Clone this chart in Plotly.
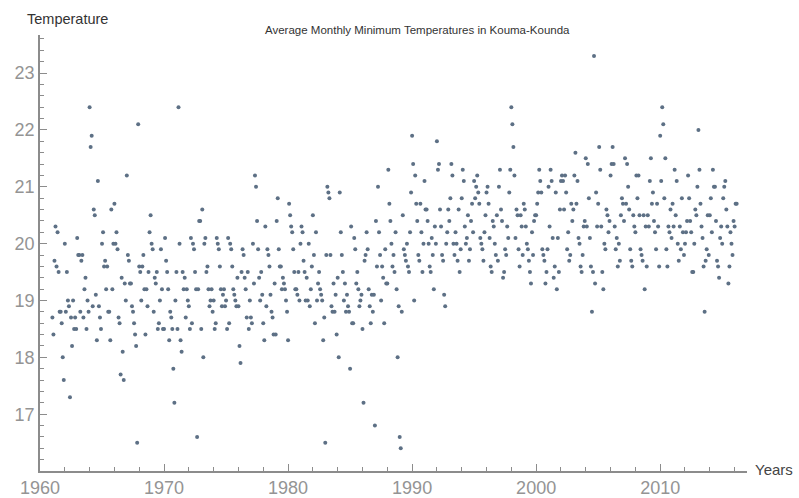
import plotly.graph_objects as go

y1961 = [18.7, 18.4, 19.7, 20.3, 19.6, 20.2, 19.5, 18.8, 18.8, 18.6, 18.0, 17.6]
y1962 = [20.0, 18.8, 19.5, 19.0, 18.9, 17.3, 18.7, 18.2, 19.0, 18.5, 18.7, 18.5]
y1963 = [20.1, 19.8, 19.8, 18.8, 19.7, 19.8, 18.7, 19.2, 19.4, 18.5, 19.0, 18.8]
y1964 = [22.4, 21.7, 21.9, 18.9, 20.6, 20.5, 19.1, 18.3, 21.1, 18.9, 18.7, 18.5]
y1965 = [20.0, 20.2, 19.6, 19.7, 19.2, 19.6, 18.8, 18.8, 18.3, 20.6, 19.2, 20.0]
y1966 = [20.7, 20.0, 20.2, 19.9, 18.7, 18.6, 17.7, 19.4, 18.1, 17.6, 19.3, 19.0]
y1967 = [21.2, 19.8, 19.7, 19.3, 19.3, 18.9, 18.8, 18.6, 18.4, 18.2, 16.5, 22.1]
y1968 = [19.6, 19.5, 19.0, 19.6, 19.8, 19.2, 18.4, 19.2, 18.9, 19.5, 20.2, 20.5]
y1969 = [20.0, 19.9, 18.8, 19.4, 19.3, 19.5, 18.5, 18.6, 19.0, 19.9, 19.2, 18.5]
y1970 = [18.5, 20.1, 19.7, 19.5, 19.2, 18.3, 18.8, 18.7, 18.5, 17.8, 17.2, 19.0]
y1971 = [19.5, 18.5, 22.4, 20.0, 18.3, 18.1, 19.5, 19.2, 19.4, 18.7, 19.2, 19.0]
y1972 = [18.9, 18.5, 20.1, 18.6, 20.0, 19.9, 19.5, 19.2, 16.6, 19.2, 20.4, 20.4]
y1973 = [18.5, 20.6, 18.0, 20.0, 20.1, 19.5, 19.6, 19.2, 18.9, 19.0, 19.2, 18.8]
y1974 = [19.0, 18.5, 18.6, 20.1, 20.0, 19.9, 19.6, 19.2, 18.9, 19.1, 19.2, 18.9]
y1975 = [19.0, 18.5, 20.1, 18.6, 20.0, 19.9, 19.6, 19.2, 19.1, 19.0, 18.9, 19.4]
y1976 = [18.9, 18.2, 17.9, 19.5, 19.9, 19.8, 19.4, 19.2, 18.7, 19.5, 18.5, 19.0]
y1977 = [18.7, 18.6, 20.0, 19.3, 21.2, 21.0, 20.4, 19.9, 19.4, 19.0, 19.5, 19.1]
y1978 = [18.6, 18.3, 20.3, 18.9, 19.9, 19.8, 19.6, 19.1, 18.8, 18.7, 18.4, 19.3]
y1979 = [18.4, 20.4, 20.8, 19.9, 19.6, 19.6, 19.2, 19.4, 19.3, 19.2, 19.0, 18.8]
y1980 = [18.3, 20.7, 20.5, 20.3, 20.2, 19.9, 19.5, 19.2, 19.2, 19.1, 19.5, 19.0]
y1981 = [20.0, 20.3, 20.2, 19.7, 19.5, 19.0, 19.4, 19.0, 20.0, 18.9, 19.2, 19.6]
y1982 = [20.5, 19.8, 18.6, 20.2, 19.0, 19.3, 19.5, 19.2, 19.1, 19.0, 18.3, 18.7]
y1983 = [16.5, 19.8, 21.0, 20.9, 20.8, 19.8, 18.9, 18.8, 19.3, 18.8, 19.1, 18.4]
y1984 = [19.4, 18.0, 20.9, 20.2, 19.8, 19.5, 19.0, 19.3, 18.8, 19.1, 18.9, 18.8]
y1985 = [17.8, 20.3, 18.6, 18.6, 20.1, 19.9, 19.3, 19.5, 19.2, 18.9, 19.0, 19.1]
y1986 = [18.5, 17.2, 19.7, 19.8, 20.2, 19.9, 19.2, 18.9, 18.6, 19.1, 18.8, 19.1]
y1987 = [16.8, 20.4, 19.6, 21.0, 20.2, 19.8, 19.0, 19.6, 19.4, 18.6, 19.9, 19.3]
y1988 = [19.3, 21.3, 20.7, 20.4, 20.0, 19.6, 19.8, 19.5, 20.2, 19.2, 18.0, 18.9]
y1989 = [16.6, 16.4, 18.8, 20.5, 19.9, 19.8, 19.7, 20.0, 19.6, 19.5, 20.2, 20.9]
y1990 = [21.9, 21.4, 19.0, 21.2, 20.7, 20.4, 19.8, 19.7, 20.7, 20.2, 19.5, 20.0]
y1991 = [21.1, 20.6, 20.6, 20.4, 20.0, 19.6, 19.5, 20.1, 19.8, 19.2, 20.3, 20.0]
y1992 = [21.8, 21.3, 21.4, 20.6, 20.3, 19.8, 19.7, 19.1, 18.9, 20.0, 20.2, 20.6]
y1993 = [20.4, 20.8, 21.4, 21.2, 20.0, 19.8, 20.2, 20.0, 19.7, 20.6, 19.5, 19.9]
y1994 = [20.8, 21.3, 21.1, 20.3, 20.0, 20.1, 20.5, 19.7, 19.9, 20.4, 20.7, 20.2]
y1995 = [21.1, 20.8, 21.0, 21.2, 20.9, 20.7, 20.1, 20.0, 19.9, 19.7, 20.2, 20.5]
y1996 = [20.9, 21.0, 20.7, 20.1, 19.6, 19.5, 20.4, 20.3, 20.0, 19.8, 20.5, 19.7]
y1997 = [21.0, 21.3, 20.6, 20.4, 19.4, 19.5, 19.9, 19.8, 20.3, 20.1, 20.9, 21.3]
y1998 = [22.4, 22.1, 21.7, 21.2, 20.1, 20.6, 20.5, 19.9, 19.6, 20.5, 20.3, 19.8]
y1999 = [20.7, 20.6, 20.3, 20.0, 19.9, 19.7, 19.5, 19.3, 20.2, 19.8, 20.4, 20.5]
y2000 = [20.5, 20.7, 20.9, 21.3, 21.1, 20.9, 19.9, 19.8, 19.7, 19.3, 19.5, 19.9]
y2001 = [21.0, 20.3, 21.3, 21.1, 20.1, 19.4, 19.6, 20.9, 19.2, 20.1, 19.5, 20.6]
y2002 = [21.1, 21.2, 21.1, 20.6, 21.2, 20.9, 19.9, 20.2, 19.7, 19.8, 20.7, 20.4]
y2003 = [20.6, 21.2, 21.6, 20.7, 21.1, 20.1, 20.0, 19.6, 19.5, 19.8, 20.3, 20.4]
y2004 = [21.5, 20.3, 21.4, 20.8, 20.1, 19.6, 18.8, 19.5, 23.3, 19.3, 20.9, 20.3]
y2005 = [20.7, 21.7, 21.3, 20.3, 19.5, 19.2, 20.0, 19.9, 20.6, 20.5, 20.2, 20.4]
y2006 = [21.2, 21.4, 21.7, 21.4, 20.3, 19.9, 20.1, 19.6, 20.0, 19.7, 20.5, 20.8]
y2007 = [20.7, 20.4, 21.5, 20.7, 21.4, 21.0, 20.6, 19.9, 19.7, 19.6, 20.5, 20.3]
y2008 = [20.2, 21.2, 20.8, 21.2, 20.5, 19.9, 19.8, 19.7, 20.5, 19.2, 20.3, 19.6]
y2009 = [20.5, 20.3, 21.1, 21.5, 20.7, 20.9, 20.4, 20.2, 19.9, 20.7, 20.3, 19.6]
y2010 = [21.9, 21.1, 22.4, 22.1, 20.8, 21.5, 19.9, 19.6, 20.3, 20.2, 20.6, 20.1]
y2011 = [20.7, 20.3, 21.3, 20.5, 21.1, 20.0, 19.7, 20.3, 19.9, 20.8, 20.2, 19.8]
y2012 = [20.0, 20.2, 20.4, 21.2, 20.8, 20.4, 20.2, 19.5, 19.5, 20.0, 20.6, 20.5]
y2013 = [21.0, 22.0, 21.3, 20.7, 20.3, 20.1, 19.6, 18.8, 19.7, 19.9, 20.5, 19.8]
y2014 = [20.5, 20.8, 20.2, 21.3, 21.0, 21.0, 20.4, 19.7, 19.6, 19.4, 20.1, 20.3]
y2015 = [20.0, 20.8, 21.0, 21.1, 20.6, 20.3, 19.3, 19.6, 20.2, 20.0, 19.8, 20.4]
y2016 = [20.3, 20.7, 20.7]

years = list(range(1961, 2017))
title_text = "Average Monthly Minimum Temperatures in Kouma-Kounda"
x_label = "Years"
y_label = "Temperature"

by_year = {yr: globals()["y%d" % yr] for yr in years}
xs, ys = [], []
for yr in years:
    for m, v in enumerate(by_year[yr]):
        xs.append(yr + m / 12.0)
        ys.append(v)

fig = go.Figure()
fig.add_trace(go.Scatter(
    x=xs, y=ys, mode="markers",
    marker=dict(size=4, color="#5d7085"),
    hoverinfo="skip",
))

axis_col = "#8c8c8c"
fam = "Liberation Sans, Arial, sans-serif"
tick_font = dict(family=fam, size=18, color="#949494")

fig.update_layout(
    width=799, height=498,
    margin=dict(l=40, r=52, t=35, b=27),
    plot_bgcolor="white", paper_bgcolor="white",
    showlegend=False,
    xaxis=dict(
        range=[1960, 2017], showgrid=False, zeroline=False, automargin=False,
        showline=True, linecolor=axis_col, linewidth=1.5,
        tickmode="linear", tick0=1960, dtick=10,
        ticks="inside", ticklen=7, tickcolor=axis_col, tickwidth=1.2,
        tickfont=tick_font,
        minor=dict(dtick=2, tick0=1960, ticks="inside", ticklen=4,
                   tickcolor=axis_col, tickwidth=1, showgrid=False),
    ),
    yaxis=dict(
        range=[16.001, 23.67], showgrid=False, zeroline=False, automargin=False,
        showline=True, linecolor=axis_col, linewidth=1.5,
        tickmode="linear", tick0=17, dtick=1,
        ticks="inside", ticklen=7, tickcolor=axis_col, tickwidth=1.2,
        tickfont=tick_font,
        minor=dict(dtick=0.2, tick0=16, ticks="inside", ticklen=4,
                   tickcolor=axis_col, tickwidth=1, showgrid=False),
    ),
    annotations=[
        dict(text=title_text, x=(417 - 40) / 707, y=1 + (35 - 30) / 436,
             xref="paper", yref="paper",
             xanchor="center", yanchor="middle", showarrow=False,
             font=dict(family=fam, size=11.5, color="#333")),
        dict(text=y_label, x=(67 - 40) / 707, y=1 + (35 - 18.5) / 436,
             xref="paper", yref="paper",
             xanchor="center", yanchor="middle", showarrow=False,
             font=dict(family=fam, size=14.5, color="#333")),
        dict(text=x_label, x=(774 - 40) / 707, y=(471 - 469) / 436,
             xref="paper", yref="paper",
             xanchor="center", yanchor="middle", showarrow=False,
             font=dict(family=fam, size=15, color="#444")),
    ],
)

fig.write_html("out.html",
               config={"displayModeBar": False},
               post_script="document.body.style.margin='0';document.body.style.overflow='hidden';")
